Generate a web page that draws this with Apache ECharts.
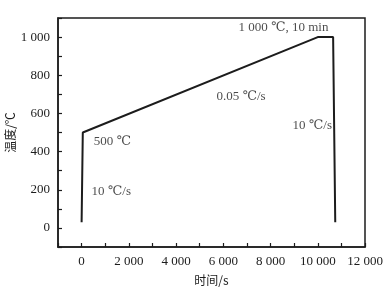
<!DOCTYPE html>
<html>
<head>
<meta charset="utf-8">
<script src="https://cdn.jsdelivr.net/npm/echarts@6/dist/echarts.min.js"></script>
<style>
  html, body { margin: 0; padding: 0; background: #fff; }
  #chart { width: 391px; height: 296px; }
</style>
</head>
<body>
<div id="chart"></div>
<script>
// heat treatment curve: time (s) vs temperature (℃)
var curveTime = [0, 50, 10000, 10650, 10740];
var curveTemp = [30, 500, 1000, 1000, 30];

// annotation text and where it sits (in data units)
var noteText = ['1 000 ℃, 10 min', '0.05 ℃/s', '10 ℃/s', '500 ℃', '10 ℃/s'];
var noteTime = [6640, 5710, 8930, 510, 420];
var noteTemp = [1049, 689, 536, 453, 188];

var xName = '时间/s';
var yName = '温度/℃';

var serif = '"Liberation Serif", "DejaVu Serif", "Noto Sans CJK SC", serif';
var ink = '#1c1c1c';

function fmt(v) {
    // 1000 -> "1 000"
    return String(v).replace(/\B(?=(\d{3})+(?!\d))/g, ' ');
}

var curve = curveTime.map(function (t, i) { return [t, curveTemp[i]]; });
var notes = noteText.map(function (s, i) { return {value: [noteTime[i], noteTemp[i]], name: s}; });

var myChart = echarts.init(document.getElementById('chart'));
var option = {
    backgroundColor: '#fff',
    animation: false,
    grid: {
        left: 58,
        right: 26,
        top: 18,
        bottom: 49,
        outerBoundsMode: 'none',
        containLabel: false,
        show: true,
        borderColor: ink,
        borderWidth: 1.5
    },
    xAxis: {
        type: 'value',
        min: -1000,
        max: 12000,
        interval: 1000,
        name: xName,
        nameLocation: 'middle',
        nameGap: 27,
        nameMoveOverlap: false,
        nameTextStyle: {color: ink, fontSize: 12, fontFamily: '"Noto Sans CJK SC", serif'},
        splitLine: {show: false},
        axisLine: {onZero: false, lineStyle: {color: ink, width: 1.5}},
        axisTick: {inside: true, length: 4, lineStyle: {color: ink, width: 1.2}},
        axisLabel: {
            color: ink,
            fontSize: 13,
            fontFamily: serif,
            margin: 8,
            formatter: function (v) { return v >= 0 && v % 2000 === 0 ? fmt(v) : ''; }
        }
    },
    yAxis: {
        type: 'value',
        min: -100,
        max: 1100,
        interval: 100,
        name: yName,
        nameLocation: 'middle',
        nameGap: 42,
        nameMoveOverlap: false,
        nameTextStyle: {color: ink, fontSize: 12, fontFamily: '"Noto Sans CJK SC", serif'},
        splitLine: {show: false},
        axisLine: {onZero: false, lineStyle: {color: ink, width: 1.5}},
        axisTick: {inside: true, length: 4, lineStyle: {color: ink, width: 1.2}},
        axisLabel: {
            color: ink,
            fontSize: 13,
            fontFamily: serif,
            margin: 8,
            formatter: function (v) { return v >= 0 && v % 200 === 0 ? fmt(v) : ''; }
        }
    },
    series: [
        {
            type: 'line',
            data: curve,
            symbol: 'none',
            lineStyle: {color: ink, width: 2}
        },
        {
            type: 'scatter',
            data: notes,
            symbolSize: 0,
            label: {
                show: true,
                position: [0, 0],
                align: 'left',
                verticalAlign: 'middle',
                color: ink,
                fontSize: 13,
                fontFamily: serif,
                formatter: function (p) { return p.name; }
            }
        }
    ]
};
myChart.setOption(option, true);
</script>
</body>
</html>
